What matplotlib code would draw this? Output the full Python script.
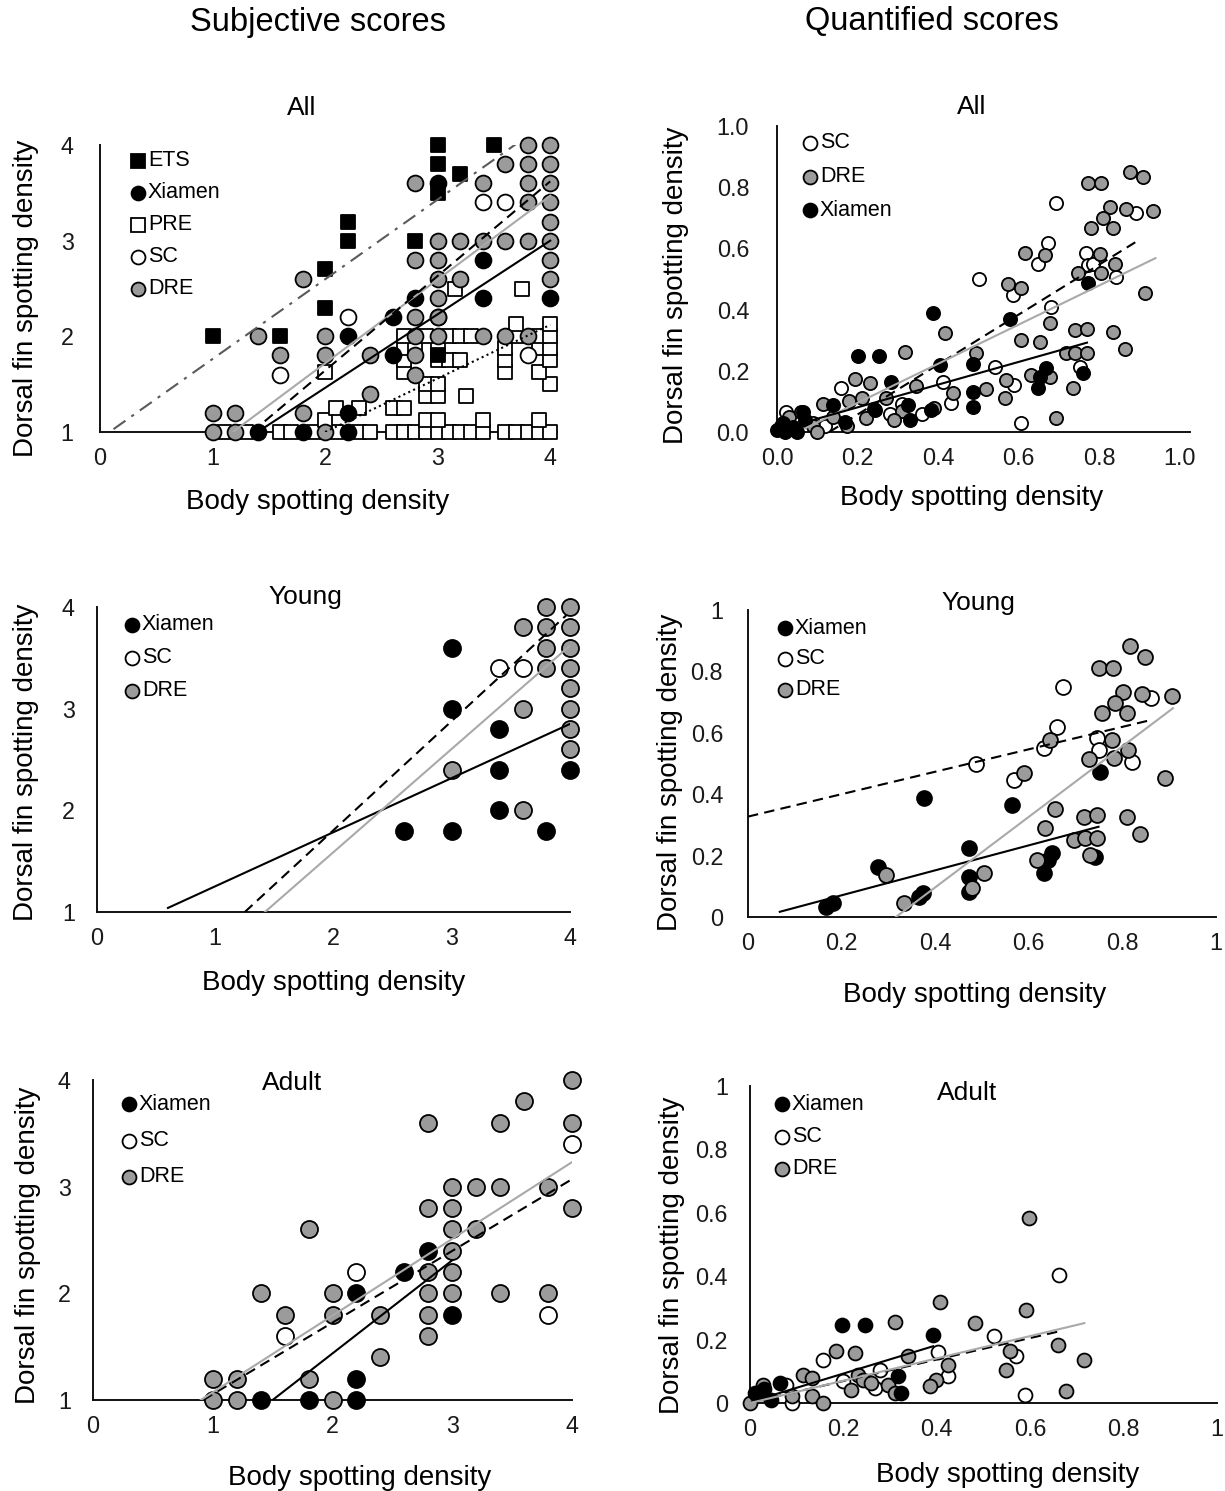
import matplotlib.pyplot as plt
from matplotlib.lines import Line2D

plt.rcParams['font.family'] = ['Liberation Sans', 'DejaVu Sans']

W, H = 1225, 1491
GRAY = '#9b9b9b'
LINE_GRAY = '#a9a9a9'

# ---------------- Subjective scores, All ----------------
p1_ets_x = [3.0, 3.5, 3.0, 3.2, 3.0, 2.2, 2.2, 2.8, 2.0, 2.0, 1.0, 1.6, 3.0]
p1_ets_y = [4.0, 4.0, 3.8, 3.7, 3.5, 3.2, 3.0, 3.0, 2.7, 2.3, 2.0, 2.0, 1.8]
p1_xia_x = [3.0, 3.4, 3.4, 4.0, 2.8, 2.6, 2.2, 2.6, 2.2, 2.2, 1.8, 1.4]
p1_xia_y = [3.6, 2.8, 2.4, 2.4, 2.4, 2.2, 2.0, 1.8, 1.2, 1.0, 1.0, 1.0]
p1_pre_x = [1.1, 1.3, 1.6, 1.7, 1.9, 2.1, 2.3, 2.4, 2.6, 2.7, 2.8, 2.9, 3.0, 3.1,
            3.2, 3.3, 3.4, 3.6, 3.7, 3.8, 3.9, 4.0,
            2.0, 2.9, 3.0, 3.4, 3.9,
            2.1, 2.3, 2.6, 2.7,
            2.9, 3.0, 3.25,
            2.9, 3.0, 4.0,
            2.0, 2.7, 3.6, 3.9,
            2.7, 3.0, 3.1, 3.2, 3.6, 4.0,
            2.7, 2.8, 3.0, 3.6, 3.9, 4.0,
            2.7, 2.9, 3.1, 3.2, 3.3, 3.7, 3.9, 4.0,
            3.7, 4.0,
            3.15, 3.75]
p1_pre_y = [1.0] * 22 + [1.125] * 5 + [1.25] * 4 + [1.375] * 3 + [1.5] * 3 + \
           [1.625] * 4 + [1.75] * 6 + [1.875] * 6 + [2.0] * 8 + [2.125] * 2 + [2.5] * 2
p1_sc_x = [3.4, 3.6, 2.2, 1.6, 3.8, 3.0]
p1_sc_y = [3.4, 3.4, 2.2, 1.6, 1.8, 2.2]
p1_dre_x = [3.8, 4.0, 3.6, 3.8, 4.0, 2.8, 3.4, 3.8, 4.0, 3.8, 4.0, 4.0,
            3.0, 3.2, 3.4, 3.6, 3.8, 4.0, 2.8, 3.0, 4.0, 3.0, 3.2, 4.0, 1.8,
            3.0, 2.8, 3.0, 1.4, 2.0, 2.8, 3.0, 3.4, 3.6, 3.8,
            1.6, 2.0, 2.4, 2.8, 2.8, 2.4, 1.0, 1.2, 1.8, 1.0, 1.2, 2.0]
p1_dre_y = [4.0, 4.0, 3.8, 3.8, 3.8, 3.6, 3.6, 3.6, 3.6, 3.4, 3.4, 3.2,
            3.0, 3.0, 3.0, 3.0, 3.0, 3.0, 2.8, 2.8, 2.8, 2.6, 2.6, 2.6, 2.6,
            2.4, 2.2, 2.2, 2.0, 2.0, 2.0, 2.0, 2.0, 2.0, 2.0,
            1.8, 1.8, 1.8, 1.8, 1.6, 1.4, 1.2, 1.2, 1.2, 1.0, 1.0, 1.0]
# trend lines (start, end)
p1_ets_fit = ([0.12, 3.72], [1.03, 4.03])
p1_dre_fit = ([1.18, 4.0], [1.0, 3.47])
p1_sc_fit = ([1.35, 4.0], [1.0, 3.62])
p1_xia_fit = ([1.4, 4.0], [1.0, 3.0])
p1_pre_fit = ([2.0, 4.0], [1.0, 2.12])

# ---------------- Quantified scores, All ----------------
p2_sc_x = [0.694, 0.673, 0.648, 0.503, 0.586, 0.68, 0.768, 0.773, 0.893, 0.843,
           0.541, 0.59, 0.607, 0.412, 0.16, 0.28, 0.433, 0.752, 0.023, 0.055,
           0.09, 0.24, 0.36, 0.12, 0.31, 0.785]
p2_sc_y = [0.749, 0.619, 0.549, 0.499, 0.448, 0.41, 0.584, 0.546, 0.715, 0.508,
           0.213, 0.154, 0.028, 0.164, 0.143, 0.06, 0.094, 0.213, 0.066, 0.04,
           0.03, 0.075, 0.06, 0.02, 0.09, 0.55]
p2_dre_x = [0.876, 0.909, 0.773, 0.806, 0.827, 0.868, 0.934, 0.81, 0.781, 0.835,
            0.615, 0.665, 0.802, 0.748, 0.806, 0.839, 0.574, 0.607, 0.913, 0.677,
            0.417, 0.74, 0.769, 0.607, 0.653, 0.835, 0.864, 0.719, 0.74, 0.769,
            0.317, 0.495, 0.632, 0.677, 0.57, 0.193, 0.23, 0.346, 0.52, 0.437,
            0.566, 0.735, 0.694, 0.18, 0.115, 0.14, 0.09, 0.175, 0.22, 0.31,
            0.39, 0.29, 0.03, 0.06, 0.1, 0.21, 0.27]
p2_dre_y = [0.851, 0.834, 0.815, 0.815, 0.736, 0.729, 0.722, 0.70, 0.668, 0.668,
            0.586, 0.578, 0.582, 0.519, 0.519, 0.549, 0.484, 0.47, 0.453, 0.355,
            0.325, 0.333, 0.336, 0.301, 0.295, 0.328, 0.271, 0.257, 0.257, 0.259,
            0.263, 0.257, 0.186, 0.181, 0.17, 0.172, 0.159, 0.15, 0.139, 0.126,
            0.11, 0.143, 0.045, 0.1, 0.09, 0.05, 0.02, 0.02, 0.045, 0.07,
            0.08, 0.04, 0.05, 0.065, 0.0, 0.11, 0.11]
p2_xia_x = [0.388, 0.578, 0.201, 0.253, 0.773, 0.404, 0.487, 0.669, 0.653, 0.648,
            0.76, 0.284, 0.487, 0.487, 0.325, 0.33, 0.383, 0.243, 0.139, 0.168,
            0.065, 0.0, 0.015, 0.04, 0.02, 0.07, 0.01, 0.05]
p2_xia_y = [0.39, 0.368, 0.248, 0.248, 0.486, 0.219, 0.222, 0.208, 0.181, 0.143,
            0.192, 0.164, 0.132, 0.083, 0.088, 0.039, 0.072, 0.072, 0.088, 0.034,
            0.066, 0.005, 0.03, 0.015, 0.0, 0.04, 0.02, 0.0]
p2_sc_fit = ([0.13, 0.89], [0.0, 0.62])
p2_dre_fit = ([0.07, 0.94], [0.012, 0.568])
p2_xia_fit = ([0.01, 0.77], [0.01, 0.292])

# ---------------- Subjective scores, Young ----------------
p3_xia_x = [3.0, 3.0, 3.4, 3.4, 4.0, 3.4, 2.6, 3.0, 3.8]
p3_xia_y = [3.6, 3.0, 2.8, 2.4, 2.4, 2.0, 1.8, 1.8, 1.8]
p3_sc_x = [3.4, 3.6]
p3_sc_y = [3.4, 3.4]
p3_dre_x = [3.8, 4.0, 3.6, 3.8, 4.0, 3.8, 4.0, 3.8, 4.0, 4.0, 3.6, 4.0, 4.0, 4.0, 3.0, 3.6]
p3_dre_y = [4.0, 4.0, 3.8, 3.8, 3.8, 3.6, 3.6, 3.4, 3.4, 3.2, 3.0, 3.0, 2.8, 2.6, 2.4, 2.0]
p3_xia_fit = ([0.6, 4.0], [1.04, 2.85])
p3_sc_fit = ([1.25, 3.97], [1.0, 3.92])
p3_dre_fit = ([1.42, 4.0], [1.0, 3.62])

# ---------------- Quantified scores, Young ----------------
p4_xia_x = [0.167, 0.182, 0.277, 0.377, 0.366, 0.373, 0.472, 0.472, 0.472, 0.565,
            0.632, 0.65, 0.64, 0.742, 0.752]
p4_xia_y = [0.034, 0.045, 0.164, 0.387, 0.066, 0.077, 0.224, 0.131, 0.083, 0.365,
            0.142, 0.207, 0.186, 0.197, 0.473]
p4_sc_x = [0.674, 0.66, 0.632, 0.487, 0.568, 0.745, 0.749, 0.862, 0.82]
p4_sc_y = [0.75, 0.618, 0.549, 0.5, 0.446, 0.582, 0.544, 0.712, 0.506]
p4_dre_x = [0.816, 0.848, 0.749, 0.78, 0.802, 0.841, 0.905, 0.784, 0.756, 0.809,
            0.646, 0.777, 0.728, 0.781, 0.813, 0.589, 0.891, 0.657, 0.717, 0.745,
            0.809, 0.635, 0.838, 0.697, 0.72, 0.745, 0.618, 0.731, 0.295, 0.504,
            0.479, 0.334]
p4_dre_y = [0.883, 0.848, 0.81, 0.81, 0.734, 0.726, 0.72, 0.696, 0.666, 0.666,
            0.577, 0.577, 0.514, 0.517, 0.544, 0.468, 0.452, 0.351, 0.327, 0.332,
            0.327, 0.289, 0.269, 0.251, 0.256, 0.256, 0.186, 0.202, 0.137, 0.142,
            0.096, 0.045]
p4_sc_fit = ([0.0, 0.862], [0.327, 0.642])
p4_xia_fit = ([0.068, 0.749], [0.017, 0.294])
p4_dre_fit = ([0.316, 0.908], [0.0, 0.68])

# ---------------- Subjective scores, Adult ----------------
p5_xia_x = [1.4, 1.8, 2.2, 2.2, 2.2, 2.6, 2.8, 3.0]
p5_xia_y = [1.0, 1.0, 1.0, 1.2, 2.0, 2.2, 2.4, 1.8]
p5_sc_x = [4.0, 2.2, 1.6, 3.8]
p5_sc_y = [3.4, 2.2, 1.6, 1.8]
p5_dre_x = [4.0, 3.6, 2.8, 3.4, 4.0, 3.0, 3.2, 3.4, 3.8, 2.8, 3.0, 4.0, 1.8, 3.0, 3.2,
            3.0, 2.8, 3.0, 1.4, 2.0, 2.8, 3.0, 3.4, 3.8, 1.6, 2.0, 2.4, 2.8, 2.8,
            2.4, 1.0, 1.2, 1.8, 1.0, 1.2, 2.0]
p5_dre_y = [4.0, 3.8, 3.6, 3.6, 3.6, 3.0, 3.0, 3.0, 3.0, 2.8, 2.8, 2.8, 2.6, 2.6, 2.6,
            2.4, 2.2, 2.2, 2.0, 2.0, 2.0, 2.0, 2.0, 2.0, 1.8, 1.8, 1.8, 1.8, 1.6,
            1.4, 1.2, 1.2, 1.2, 1.0, 1.0, 1.0]
p5_xia_fit = ([1.5, 3.0], [1.0, 2.31])
p5_sc_fit = ([0.92, 4.0], [1.0, 3.07])
p5_dre_fit = ([0.9, 4.0], [1.0, 3.23])

# ---------------- Quantified scores, Adult ----------------
p6_xia_x = [0.196, 0.246, 0.392, 0.317, 0.324, 0.064, 0.046, 0.01, 0.03]
p6_xia_y = [0.247, 0.247, 0.215, 0.084, 0.032, 0.063, 0.01, 0.03, 0.045]
p6_sc_x = [0.662, 0.523, 0.402, 0.57, 0.424, 0.588, 0.157, 0.278, 0.267, 0.078,
           0.089, 0.025, 0.2]
p6_sc_y = [0.404, 0.21, 0.16, 0.147, 0.084, 0.026, 0.137, 0.105, 0.047, 0.058,
           0.0, 0.03, 0.07]
p6_dre_x = [0.598, 0.591, 0.406, 0.481, 0.31, 0.185, 0.224, 0.659, 0.556, 0.716,
            0.548, 0.424, 0.338, 0.114, 0.132, 0.231, 0.242, 0.26, 0.217, 0.296,
            0.31, 0.399, 0.385, 0.677, 0.132, 0.157, 0.028, 0.014, 0.0, 0.089]
p6_dre_y = [0.583, 0.294, 0.32, 0.252, 0.257, 0.163, 0.158, 0.184, 0.163, 0.137,
            0.105, 0.121, 0.147, 0.089, 0.079, 0.089, 0.074, 0.063, 0.042, 0.058,
            0.032, 0.074, 0.053, 0.037, 0.021, 0.0, 0.058, 0.032, 0.0, 0.021]
p6_xia_fit = ([0.004, 0.392], [0.005, 0.179])
p6_sc_fit = ([0.01, 0.662], [0.005, 0.226])
p6_dre_fit = ([0.0, 0.716], [0.0, 0.252])

fig = plt.figure(figsize=(12.25, 14.91), dpi=100)


def fx(x):
    return x / W


def fy(y):
    return 1 - y / H


def make_axes(left, right, top, bottom, xlim, ylim, xticks, xlabels, yticks, ylabels, ypad):
    ax = fig.add_axes([fx(left), fy(bottom), (right - left) / W, (bottom - top) / H])
    ax.set_xlim(*xlim)
    ax.set_ylim(*ylim)
    for s in ['top', 'right']:
        ax.spines[s].set_visible(False)
    for s in ['left', 'bottom']:
        ax.spines[s].set_linewidth(1.4)
        ax.spines[s].set_color('#111111')
    ax.set_xticks(xticks)
    ax.set_xticklabels(xlabels)
    ax.set_yticks(yticks)
    ax.set_yticklabels(ylabels)
    ax.tick_params(axis='both', length=0, labelsize=16.8, colors='#1a1a1a')
    ax.tick_params(axis='x', pad=11)
    ax.tick_params(axis='y', pad=ypad)
    ax.patch.set_alpha(0)
    return ax


def pts(ax, x, y, marker, fc, s):
    ax.scatter(x, y, s=s, marker=marker, facecolor=fc, edgecolor='black',
               linewidths=1.3, clip_on=False, zorder=3)


def fit(ax, line, color, ls):
    ax.plot(line[0], line[1], color=color, linestyle=ls, lw=1.5, zorder=4)


def legend(entries, x, y0, dy):
    for i, (marker, fc, label) in enumerate(entries):
        yy = y0 + i * dy
        fig.add_artist(Line2D([fx(x)], [fy(yy)], marker=marker, ms=10 if marker == 'o' else 9.5,
                              mfc=fc, mec='black', mew=1.3, ls='none',
                              transform=fig.transFigure))
        fig.text(fx(x + 10), fy(yy), label, fontsize=15.5, va='center', ha='left')


DASH = (0, (5, 3))
DOT = (0, (1, 1.6))
DASHDOT = (0, (7, 3.5, 1.5, 3.5))

# Column titles
fig.text(fx(318), fy(22), 'Subjective scores', fontsize=23.5, ha='center', va='center')
fig.text(fx(932), fy(22), 'Quantified scores', fontsize=23.5, ha='center', va='center')

# ---- Panel 1
ax1 = make_axes(100, 557, 145, 432, (0, 4.06), (1, 4), [0, 1, 2, 3, 4], ['0', '1', '2', '3', '4'],
                [1, 2, 3, 4], ['1', '2', '3', '4'], 19)
pts(ax1, p1_pre_x, p1_pre_y, 's', 'white', 88)
pts(ax1, p1_sc_x, p1_sc_y, 'o', 'white', 130)
pts(ax1, p1_dre_x, p1_dre_y, 'o', GRAY, 130)
pts(ax1, p1_xia_x, p1_xia_y, 'o', 'black', 130)
pts(ax1, p1_ets_x, p1_ets_y, 's', 'black', 88)
fit(ax1, p1_ets_fit, '#5a5a5a', DASHDOT)
fit(ax1, p1_dre_fit, LINE_GRAY, '-')
fit(ax1, p1_sc_fit, 'black', DASH)
fit(ax1, p1_xia_fit, 'black', '-')
fit(ax1, p1_pre_fit, 'black', DOT)
legend([('s', 'black', 'ETS'), ('o', 'black', 'Xiamen'), ('s', 'white', 'PRE'),
        ('o', 'white', 'SC'), ('o', GRAY, 'DRE')], 138, 161, 32)

# ---- Panel 2
q = [0, 0.2, 0.4, 0.6, 0.8, 1.0]
ax2 = make_axes(777, 1190, 126, 432, (0, 1.026), (0, 1), q, ['0.0', '0.2', '0.4', '0.6', '0.8', '1.0'],
                q, ['0.0', '0.2', '0.4', '0.6', '0.8', '1.0'], 20)
pts(ax2, p2_sc_x, p2_sc_y, 'o', 'white', 90)
pts(ax2, p2_dre_x, p2_dre_y, 'o', GRAY, 90)
pts(ax2, p2_xia_x, p2_xia_y, 'o', 'black', 90)
fit(ax2, p2_sc_fit, 'black', DASH)
fit(ax2, p2_dre_fit, LINE_GRAY, '-')
fit(ax2, p2_xia_fit, 'black', '-')
legend([('o', 'white', 'SC'), ('o', GRAY, 'DRE'), ('o', 'black', 'Xiamen')], 810, 143, 33.5)

# ---- Panel 3
ax3 = make_axes(97, 570, 607, 912, (0, 4), (1, 4), [0, 1, 2, 3, 4], ['0', '1', '2', '3', '4'],
                [1, 2, 3, 4], ['1', '2', '3', '4'], 16)
pts(ax3, p3_sc_x, p3_sc_y, 'o', 'white', 150)
pts(ax3, p3_dre_x, p3_dre_y, 'o', GRAY, 150)
pts(ax3, p3_xia_x, p3_xia_y, 'o', 'black', 150)
fit(ax3, p3_xia_fit, 'black', '-')
fit(ax3, p3_sc_fit, 'black', DASH)
fit(ax3, p3_dre_fit, LINE_GRAY, '-')
legend([('o', 'black', 'Xiamen'), ('o', 'white', 'SC'), ('o', GRAY, 'DRE')], 132, 625, 33)

# ---- Panel 4
qs = ['0', '0.2', '0.4', '0.6', '0.8', '1']
ax4 = make_axes(748, 1216, 610, 917, (0, 1.0), (0, 1), q, qs, q, qs, 18)
pts(ax4, p4_sc_x, p4_sc_y, 'o', 'white', 115)
pts(ax4, p4_xia_x, p4_xia_y, 'o', 'black', 115)
pts(ax4, p4_dre_x, p4_dre_y, 'o', GRAY, 115)
fit(ax4, p4_sc_fit, 'black', DASH)
fit(ax4, p4_xia_fit, 'black', '-')
fit(ax4, p4_dre_fit, LINE_GRAY, '-')
legend([('o', 'black', 'Xiamen'), ('o', 'white', 'SC'), ('o', GRAY, 'DRE')], 785, 628, 31)

# ---- Panel 5
ax5 = make_axes(93, 572, 1080, 1400, (0, 4), (1, 4), [0, 1, 2, 3, 4], ['0', '1', '2', '3', '4'],
                [1, 2, 3, 4], ['1', '2', '3', '4'], 16)
pts(ax5, p5_sc_x, p5_sc_y, 'o', 'white', 150)
pts(ax5, p5_dre_x, p5_dre_y, 'o', GRAY, 150)
pts(ax5, p5_xia_x, p5_xia_y, 'o', 'black', 150)
fit(ax5, p5_xia_fit, 'black', '-')
fit(ax5, p5_sc_fit, 'black', DASH)
fit(ax5, p5_dre_fit, LINE_GRAY, '-')
legend([('o', 'black', 'Xiamen'), ('o', 'white', 'SC'), ('o', GRAY, 'DRE')], 129, 1104, 36.5)

# ---- Panel 6
ax6 = make_axes(750, 1217, 1086, 1403, (0, 1.0), (0, 1), q, qs, q, qs, 16)
pts(ax6, p6_sc_x, p6_sc_y, 'o', 'white', 100)
pts(ax6, p6_dre_x, p6_dre_y, 'o', GRAY, 100)
pts(ax6, p6_xia_x, p6_xia_y, 'o', 'black', 100)
fit(ax6, p6_xia_fit, 'black', '-')
fit(ax6, p6_sc_fit, 'black', DASH)
fit(ax6, p6_dre_fit, LINE_GRAY, '-')
legend([('o', 'black', 'Xiamen'), ('o', 'white', 'SC'), ('o', GRAY, 'DRE')], 782, 1104, 32.5)

# Panel titles
for x, y, t in [(302, 108, 'All'), (972, 107, 'All'), (305, 597, 'Young'),
                (978, 603, 'Young'), (292, 1083, 'Adult'), (967, 1093, 'Adult')]:
    fig.text(fx(x), fy(y), t, fontsize=19, ha='center', va='center')

# Axis labels
for x, y in [(318, 502), (972, 498), (334, 983), (975, 995), (360, 1478), (1008, 1475)]:
    fig.text(fx(x), fy(y), 'Body spotting density', fontsize=20, ha='center', va='center')
for x, y in [(26, 298), (676, 285), (26, 762), (670, 772), (28, 1245), (672, 1255)]:
    fig.text(fx(x), fy(y), 'Dorsal fin spotting density', fontsize=20, ha='center',
             va='center', rotation=90)

fig.savefig('out.png', dpi=100)
